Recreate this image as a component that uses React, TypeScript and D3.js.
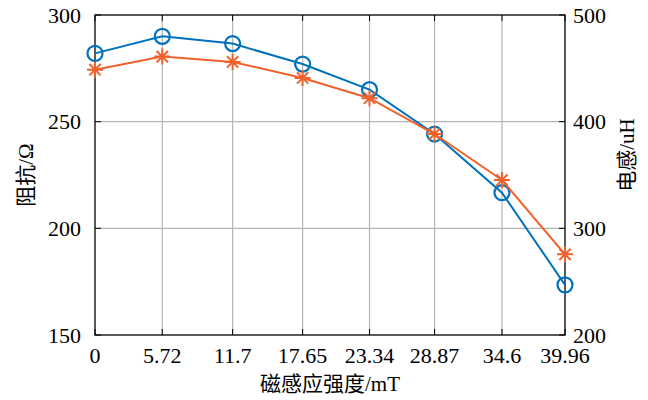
import { useEffect, useRef } from 'react';
import * as d3 from 'd3';

// magnetic field values (mT)
const fieldValues = [0, 5.72, 11.7, 17.65, 23.34, 28.87, 34.6, 39.96];
const fieldLabels = ['0', '5.72', '11.7', '17.65', '23.34', '28.87', '34.6', '39.96'];
// impedance (Ohm), left axis
const impedance = [282, 290, 286.6, 277, 265, 244.2, 216.7, 173.5];
// inductance (uH), right axis
const inductance = [448.7, 461, 456, 441, 422, 388.4, 345.3, 275.6];

const leftTicks = [150, 200, 250, 300];
const rightTicks = [200, 300, 400, 500];

const W = 648;
const H = 400;
const FONT = '"Liberation Serif", "Noto Sans CJK SC", serif';

export default function App() {
  const svgRef = useRef<SVGSVGElement | null>(null);

  useEffect(() => {
    const root = d3.select(svgRef.current);
    root.selectAll('*').remove();

    const margin = { top: 15, right: 83, bottom: 65, left: 95 };
    const width = W - margin.left - margin.right;
    const height = H - margin.top - margin.bottom;

    const svg = root.append('g').attr('transform', `translate(${margin.left},${margin.top})`);

    const x = d3.scaleLinear().domain([0, 39.96]).range([0, width]);
    const yL = d3.scaleLinear().domain([150, 300]).range([height, 0]);
    const yR = d3.scaleLinear().domain([200, 500]).range([height, 0]);

    // grid lines
    svg.append('g')
      .selectAll('line.vg')
      .data(fieldValues.slice(1, -1))
      .enter()
      .append('line')
      .attr('x1', d => x(d)).attr('x2', d => x(d))
      .attr('y1', 0).attr('y2', height)
      .attr('stroke', '#b4b4b4').attr('stroke-width', 1.2);

    svg.append('g')
      .selectAll('line.hg')
      .data(leftTicks.slice(1, -1))
      .enter()
      .append('line')
      .attr('x1', 0).attr('x2', width)
      .attr('y1', d => yL(d)).attr('y2', d => yL(d))
      .attr('stroke', '#b4b4b4').attr('stroke-width', 1.2);

    // box
    svg.append('rect')
      .attr('x', 0).attr('y', 0)
      .attr('width', width).attr('height', height)
      .attr('fill', 'none').attr('stroke', '#000').attr('stroke-width', 1.3);

    // ticks (inward)
    const tk = 6;
    fieldValues.forEach(v => {
      svg.append('line').attr('x1', x(v)).attr('x2', x(v)).attr('y1', height).attr('y2', height - tk).attr('stroke', '#000');
      svg.append('line').attr('x1', x(v)).attr('x2', x(v)).attr('y1', 0).attr('y2', tk).attr('stroke', '#000');
    });
    leftTicks.forEach(v => {
      svg.append('line').attr('x1', 0).attr('x2', tk).attr('y1', yL(v)).attr('y2', yL(v)).attr('stroke', '#000');
    });
    rightTicks.forEach(v => {
      svg.append('line').attr('x1', width).attr('x2', width - tk).attr('y1', yR(v)).attr('y2', yR(v)).attr('stroke', '#000');
    });

    // tick labels
    svg.selectAll('text.xl')
      .data(fieldValues)
      .enter()
      .append('text')
      .attr('x', d => x(d))
      .attr('y', height + 28)
      .attr('text-anchor', 'middle')
      .style('font-family', FONT)
      .style('font-size', '22px')
      .text((d, i) => fieldLabels[i]);

    svg.selectAll('text.yl')
      .data(leftTicks)
      .enter()
      .append('text')
      .attr('x', -14)
      .attr('y', d => yL(d))
      .attr('dy', '0.35em')
      .attr('text-anchor', 'end')
      .style('font-family', FONT)
      .style('font-size', '22px')
      .text(d => d);

    svg.selectAll('text.yr')
      .data(rightTicks)
      .enter()
      .append('text')
      .attr('x', width + 8)
      .attr('y', d => yR(d))
      .attr('dy', '0.35em')
      .attr('text-anchor', 'start')
      .style('font-family', FONT)
      .style('font-size', '22px')
      .text(d => d);

    // axis titles
    svg.append('text')
      .attr('x', width / 2)
      .attr('y', height + 56)
      .attr('text-anchor', 'middle')
      .style('font-family', FONT)
      .style('font-size', '21px')
      .text('磁感应强度/mT');

    svg.append('text')
      .attr('transform', `translate(${-62},${height / 2}) rotate(-90)`)
      .attr('text-anchor', 'middle')
      .style('font-family', FONT)
      .style('font-size', '21px')
      .text('阻抗/Ω');

    svg.append('text')
      .attr('transform', `translate(${width + 69},${height / 2 - 20}) rotate(-90)`)
      .attr('text-anchor', 'middle')
      .style('font-family', FONT)
      .style('font-size', '21px')
      .text('电感/uH');

    const blue = '#0072BD';
    const orange = '#F0622C';

    // impedance line
    const lineL = d3.line<number>().x((d, i) => x(fieldValues[i])).y(d => yL(d));
    svg.append('path')
      .datum(impedance)
      .attr('d', lineL)
      .attr('fill', 'none')
      .attr('stroke', blue)
      .attr('stroke-width', 2);

    svg.selectAll('circle.m')
      .data(impedance)
      .enter()
      .append('circle')
      .attr('cx', (d, i) => x(fieldValues[i]))
      .attr('cy', d => yL(d))
      .attr('r', 7.5)
      .attr('fill', 'none')
      .attr('stroke', blue)
      .attr('stroke-width', 2.2);

    // inductance line
    const lineR = d3.line<number>().x((d, i) => x(fieldValues[i])).y(d => yR(d));
    svg.append('path')
      .datum(inductance)
      .attr('d', lineR)
      .attr('fill', 'none')
      .attr('stroke', orange)
      .attr('stroke-width', 2);

    const star = 8;
    const starPath = (cx: number, cy: number) => {
      const p = d3.path();
      [0, 45, 90, 135].forEach(a => {
        const r = (a * Math.PI) / 180;
        const dx = Math.cos(r) * star;
        const dy = Math.sin(r) * star;
        p.moveTo(cx - dx, cy - dy);
        p.lineTo(cx + dx, cy + dy);
      });
      return p.toString();
    };
    svg.selectAll('path.star')
      .data(inductance)
      .enter()
      .append('path')
      .attr('d', (d, i) => starPath(x(fieldValues[i]), yR(d)))
      .attr('fill', 'none')
      .attr('stroke', orange)
      .attr('stroke-width', 2);
  }, []);

  return (
    <svg
      ref={svgRef}
      width={W}
      height={H}
      style={{ position: 'absolute', left: 0, top: 0, background: '#fff' }}
    />
  );
}
